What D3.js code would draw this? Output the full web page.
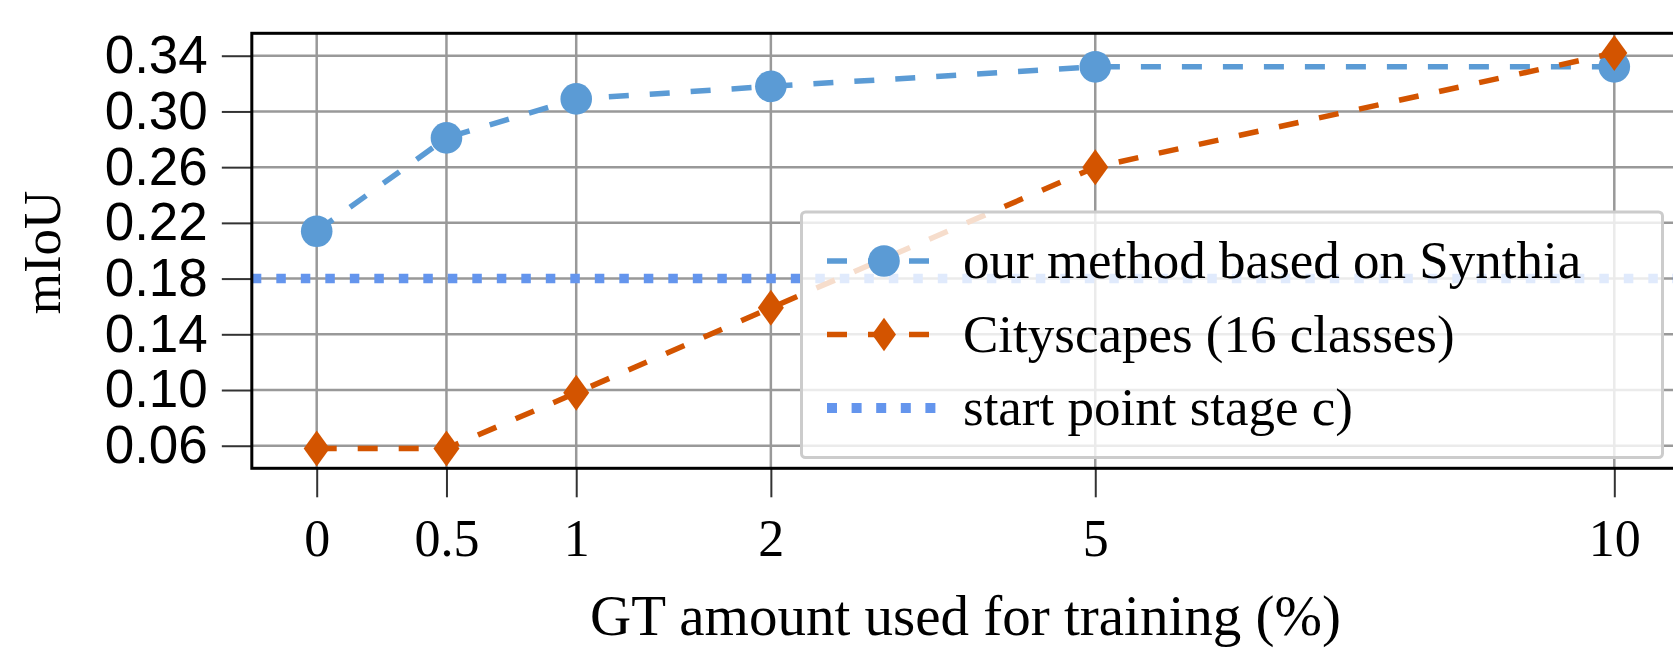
<!DOCTYPE html>
<html>
<head>
<meta charset="utf-8">
<script src="https://cdn.jsdelivr.net/npm/d3@7"></script>
<style>
  body { margin: 0; background: #fff; }
  svg { display: block; }
</style>
</head>
<body>
<svg id="chart" width="1673" height="649"></svg>
<script>
// data
const xTicks = [0, 0.5, 1, 2, 5, 10];
const xLabels = ['0', '0.5', '1', '2', '5', '10'];
const yTicks = [0.06, 0.10, 0.14, 0.18, 0.22, 0.26, 0.30, 0.34];
const oursVals = [0.214, 0.281, 0.309, 0.318, 0.332, 0.332];
const cityVals = [0.058, 0.058, 0.098, 0.159, 0.260, 0.342];
const startVal = 0.18;
const seriesNames = ['our method based on Synthia', 'Cityscapes (16 classes)', 'start point stage c)'];

const blue = '#5b9bd5';
const orange = '#d35400';
const dotBlue = '#6495ed';

const svg = d3.select('#chart');

// x axis is not linear in the source: ticks sit at these slot positions
const slots = [0, 1, 2, 3.5, 6, 10];
const slotW = 129.76;
const x0 = 316.7;
const plotLeft = x0 - 0.5 * slotW;
const plotRight = x0 + 10.5 * slotW;
const plotTop = 33.3, plotBottom = 468.3;

const xScale = d3.scaleLinear()
    .domain(xTicks)
    .range(slots.map(s => x0 + s * slotW));

const yScale = d3.scaleLinear()
    .domain([0.0438, 0.3561])
    .range([plotBottom, plotTop]);

// grid
const grid = svg.append('g');
grid.selectAll('.gy')
    .data(yTicks)
    .join('line')
    .attr('class', 'gy')
    .attr('x1', plotLeft).attr('x2', plotRight)
    .attr('y1', d => yScale(d)).attr('y2', d => yScale(d))
    .attr('stroke', '#999').attr('stroke-width', 2.5);
grid.selectAll('.gx')
    .data(xTicks)
    .join('line')
    .attr('class', 'gx')
    .attr('x1', d => xScale(d)).attr('x2', d => xScale(d))
    .attr('y1', plotTop).attr('y2', plotBottom)
    .attr('stroke', '#999').attr('stroke-width', 2.5);

// axes
const yAxis = d3.axisLeft(yScale)
    .tickValues(yTicks)
    .tickFormat(d3.format('.2f'))
    .tickSize(30)
    .tickPadding(14);
const gy = svg.append('g')
    .attr('transform', `translate(${plotLeft},0)`)
    .call(yAxis);
gy.select('.domain').remove();
gy.selectAll('line').attr('stroke', '#333').attr('stroke-width', 2);
gy.selectAll('text')
    .style('font-family', '"Liberation Sans", Arial, sans-serif')
    .style('font-size', '53px')
    .attr('fill', '#000');

const xAxis = d3.axisBottom(xScale)
    .tickValues(xTicks)
    .tickFormat((d, i) => xLabels[i])
    .tickSize(29)
    .tickPadding(22);
const gx = svg.append('g')
    .attr('transform', `translate(0,${plotBottom})`)
    .call(xAxis);
gx.select('.domain').remove();
gx.selectAll('line').attr('stroke', '#333').attr('stroke-width', 2);
gx.selectAll('text')
    .style('font-family', '"Liberation Serif", "Times New Roman", serif')
    .style('font-size', '52px')
    .attr('fill', '#000');

// start point line
svg.append('line')
    .attr('x1', plotLeft).attr('x2', plotRight)
    .attr('y1', yScale(startVal)).attr('y2', yScale(startVal))
    .attr('stroke', dotBlue)
    .attr('stroke-width', 9.5)
    .attr('stroke-dasharray', '9.5,15');

const line = d3.line()
    .x((d, i) => xScale(xTicks[i]))
    .y(d => yScale(d));

// our method
svg.append('path')
    .datum(oursVals)
    .attr('d', line)
    .attr('fill', 'none')
    .attr('stroke', blue)
    .attr('stroke-width', 5.5)
    .attr('stroke-dasharray', '20,21');
svg.selectAll('.dot')
    .data(oursVals)
    .join('circle')
    .attr('class', 'dot')
    .attr('cx', (d, i) => xScale(xTicks[i]))
    .attr('cy', d => yScale(d))
    .attr('r', 15.8)
    .attr('fill', blue);

// cityscapes
const diamond = (cx, cy, w, h) => `M${cx},${cy - h}L${cx + w},${cy}L${cx},${cy + h}L${cx - w},${cy}Z`;
svg.append('path')
    .datum(cityVals)
    .attr('d', line)
    .attr('fill', 'none')
    .attr('stroke', orange)
    .attr('stroke-width', 5.5)
    .attr('stroke-dasharray', '20,21');
svg.selectAll('.dia')
    .data(cityVals)
    .join('path')
    .attr('class', 'dia')
    .attr('d', (d, i) => diamond(xScale(xTicks[i]), yScale(d), 13, 18))
    .attr('fill', orange);

// frame
svg.append('rect')
    .attr('x', plotLeft).attr('y', plotTop)
    .attr('width', plotRight - plotLeft).attr('height', plotBottom - plotTop)
    .attr('fill', 'none')
    .attr('stroke', '#000')
    .attr('stroke-width', 3);

// axis titles
svg.append('text')
    .attr('transform', `translate(60,252.5) rotate(-90)`)
    .attr('text-anchor', 'middle')
    .style('font-family', '"Liberation Serif", "Times New Roman", serif')
    .style('font-size', '53px')
    .text('mIoU');

svg.append('text')
    .attr('x', (plotLeft + plotRight) / 2)
    .attr('y', 635)
    .attr('text-anchor', 'middle')
    .style('font-family', '"Liberation Serif", "Times New Roman", serif')
    .style('font-size', '57px')
    .text('GT amount used for training (%)');

// legend
const lg = svg.append('g');
lg.append('rect')
    .attr('x', 801.5).attr('y', 212)
    .attr('width', 861).attr('height', 245.5)
    .attr('rx', 4)
    .attr('fill', '#fff').attr('fill-opacity', 0.8)
    .attr('stroke', '#ccc').attr('stroke-width', 3);

const rowY = [261, 334.5, 408];
const hx1 = 827, hx2 = 929, hm = 884;
lg.append('line')
    .attr('x1', hx1).attr('x2', hx2).attr('y1', rowY[0]).attr('y2', rowY[0])
    .attr('stroke', blue).attr('stroke-width', 5.5).attr('stroke-dasharray', '20,21');
lg.append('circle')
    .attr('cx', hm).attr('cy', rowY[0]).attr('r', 15.8).attr('fill', blue);
lg.append('line')
    .attr('x1', hx1).attr('x2', hx2).attr('y1', rowY[1]).attr('y2', rowY[1])
    .attr('stroke', orange).attr('stroke-width', 5.5).attr('stroke-dasharray', '20,21');
lg.append('path')
    .attr('d', diamond(hm, rowY[1], 12, 16.7)).attr('fill', orange);
lg.append('line')
    .attr('x1', hx1).attr('x2', 936).attr('y1', rowY[2]).attr('y2', rowY[2])
    .attr('stroke', dotBlue).attr('stroke-width', 10).attr('stroke-dasharray', '10,14.6');

lg.selectAll('.lt')
    .data(seriesNames)
    .join('text')
    .attr('class', 'lt')
    .attr('x', 963)
    .attr('y', (d, i) => rowY[i])
    .attr('dy', '0.33em')
    .style('font-family', '"Liberation Serif", "Times New Roman", serif')
    .style('font-size', '53px')
    .text(d => d);
</script>
</body>
</html>
